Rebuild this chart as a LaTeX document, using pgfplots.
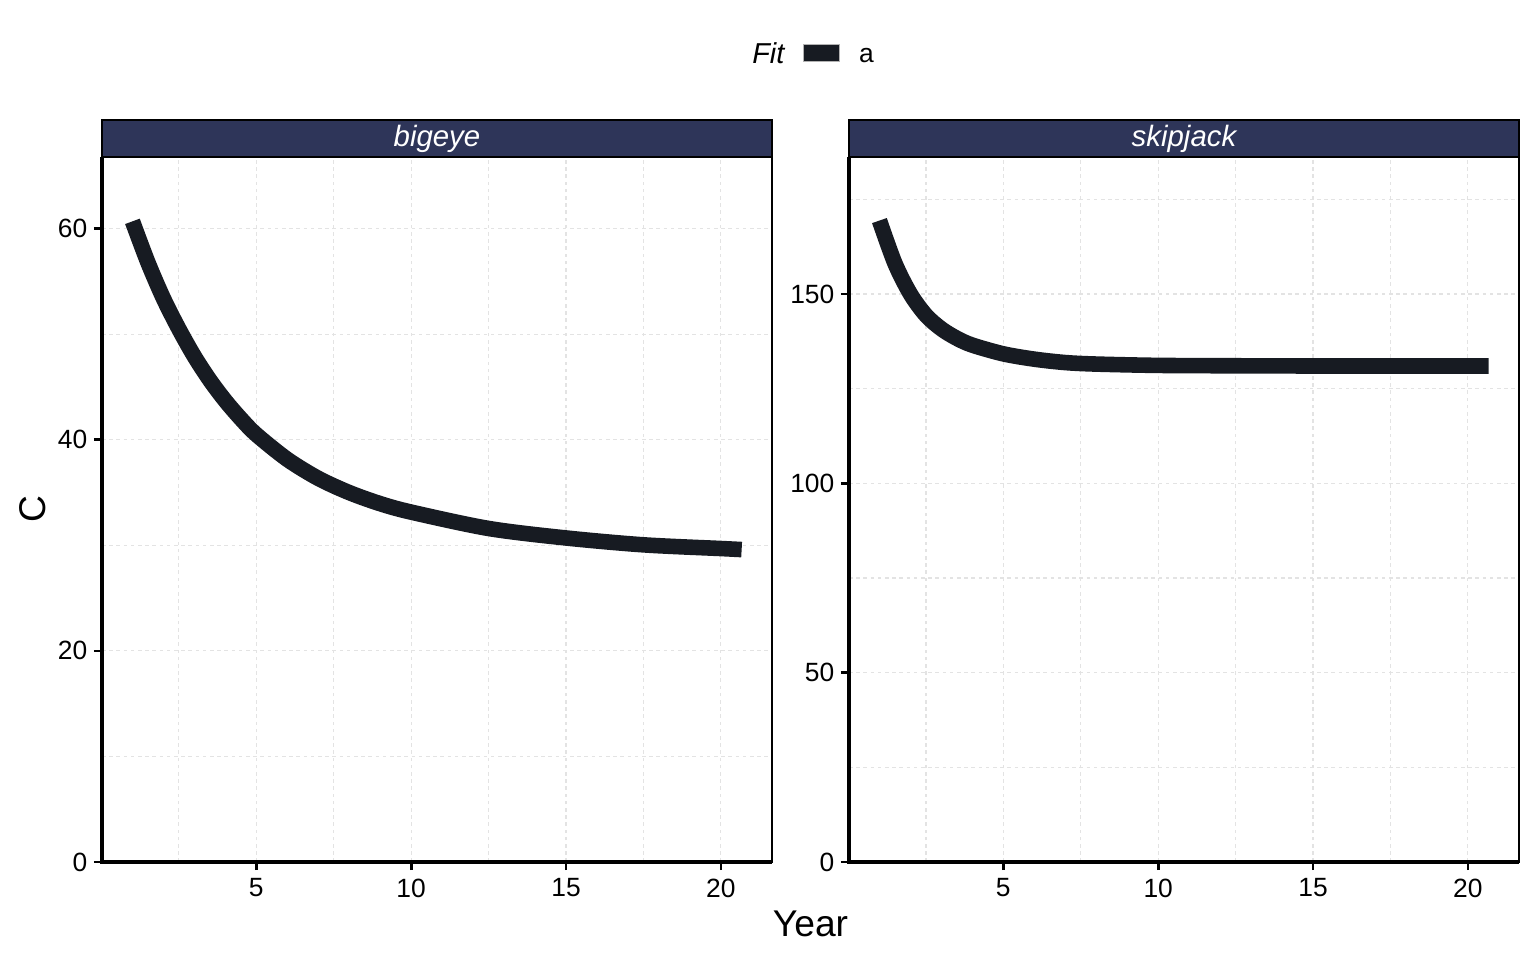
\documentclass[border=0pt]{standalone}
\usepackage{pgfplots}
\pgfplotsset{compat=1.18}
\usepackage{fontspec}
\setmainfont{Liberation Sans}

\definecolor{fitline}{HTML}{171B22}
\definecolor{stripfill}{HTML}{2E3559}
\definecolor{gridgrey}{HTML}{E3E3E3}

\pgfplotstableread{
x      C
1.00   60.7
1.50   56.8
2.00   53.4
2.50   50.5
3.00   47.9
3.50   45.65
4.00   43.7
4.50   42.0
5.00   40.5
6.00   38.15
7.00   36.35
8.00   35.0
9.00   33.95
10.0   33.15
12.5   31.6
15.0   30.7
17.5   30.05
20.0   29.7
20.67  29.6
}\bigeye

\pgfplotstableread{
x      C
1.00   169.4
1.50   158.1
2.00   150.0
2.50   144.4
3.00   140.8
3.50   138.3
4.00   136.5
5.00   134.2
6.00   132.8
7.00   131.9
8.00   131.5
10.0   131.15
12.5   131.05
15.0   131.0
20.67  131.0
}\skipjack

\tikzset{stripbox/.style={fill=stripfill, draw=black, line width=0.7pt}}

\pgfplotsset{
  panel/.style={
    scale only axis, width=223.33pt, height=235pt,
    xmin=0.017, xmax=21.65, ymin=0,
    xtick={5,10,15,20}, minor xtick={2.5,7.5,12.5,17.5},
    grid=both,
    major grid style={gridgrey, line width=0.4pt, dash pattern=on 1.2pt off 1.2pt},
    minor grid style={gridgrey, line width=0.4pt, dash pattern=on 1.2pt off 1.2pt},
    tick align=outside, tick pos=left,
    major tick length=2.7pt, minor tick length=0pt,
    tick style={black, line width=0.9pt},
    axis line style={black, line width=0.7pt},
    ticklabel style={font=\fontsize{8.8}{10}\selectfont, inner sep=0pt, black},
    xticklabel style={yshift=-2.7pt},
    yticklabel style={xshift=-2pt},
    /pgf/number format/assume math mode=true,
    clip=false,
  },
}

\begin{document}
\begin{tikzpicture}
\path[use as bounding box] (0,0) rectangle (512pt,320pt);

% bigeye
\begin{axis}[panel,
    at={(34pt,32.67pt)}, anchor=south west,
    ymax=66.8, ytick={0,20,40,60}, minor ytick={10,30,50},
    xlabel={Year},
    xlabel style={at={(axis description cs:1.0575,-0.106)}, anchor=base,
        inner sep=0pt, font=\fontsize{12.4}{14}\selectfont},
    ylabel={C},
    ylabel style={at={(axis description cs:-0.103,0.5)}, anchor=center,
        inner sep=0pt, font=\fontsize{12.4}{14}\selectfont},
    legend style={at={(axis description cs:1.0458,1.1475)}, anchor=west,
        draw=none, fill=none, inner sep=0pt, outer sep=0pt,
        font=\fontsize{8.8}{10}\selectfont,
        /tikz/every odd column/.append style={column sep=4.3pt}},
  ]
  \addplot[fitline, line width=5.2pt, line cap=butt, smooth,
    legend image code/.code={\fill[fitline, draw=gray!60, line width=0.3pt]
      (0pt,-2.9pt) rectangle (12.2pt,2.9pt);}]
    table[x=x, y=C] {\bigeye};
  \addlegendentry{\raisebox{-1.4pt}[\height][\depth]{a}}
  \draw[black, line width=1.2pt] (rel axis cs:0,1) -- (rel axis cs:0,0) -- (rel axis cs:1,0);
  \draw[stripbox] (rel axis cs:0,1) rectangle ([yshift=12.33pt]rel axis cs:1,1);
  \node[anchor=base, inner sep=0pt, text=white, font=\fontsize{9.8}{11}\selectfont\itshape]
    at ([yshift=3.4pt]rel axis cs:0.5,1) {bigeye};
  \node[anchor=base east, inner sep=0pt, font=\fontsize{9.6}{11}\selectfont\itshape]
    at (axis description cs:1.0194,1.1329) {Fit};
\end{axis}

% skipjack
\begin{axis}[panel,
    at={(283pt,32.67pt)}, anchor=south west,
    ymax=186.2, ytick={0,50,100,150}, minor ytick={25,75,125,175},
  ]
  \addplot[fitline, line width=5.2pt, line cap=butt, smooth]
    table[x=x, y=C] {\skipjack};
  \draw[black, line width=1.2pt] (rel axis cs:0,1) -- (rel axis cs:0,0) -- (rel axis cs:1,0);
  \draw[stripbox] (rel axis cs:0,1) rectangle ([yshift=12.33pt]rel axis cs:1,1);
  \node[anchor=base, inner sep=0pt, text=white, font=\fontsize{9.8}{11}\selectfont\itshape]
    at ([yshift=3.4pt]rel axis cs:0.5,1) {skipjack};
\end{axis}
\end{tikzpicture}
\end{document}
